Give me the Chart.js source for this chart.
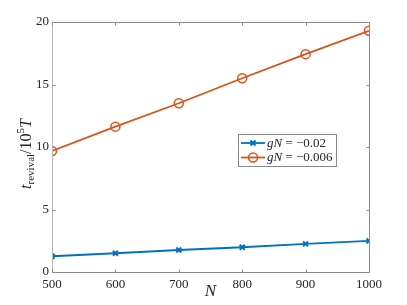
<!DOCTYPE html>
<html><head><meta charset="utf-8">
<script src="https://cdn.jsdelivr.net/npm/chart.js@4"></script>
<style>html,body{margin:0;padding:0;background:#fff}#w{width:407px;height:305px}</style>
</head><body><div id="w"><canvas id="c"></canvas></div>
<script>
const categoriesN = [500, 600, 700, 800, 900, 1000];
const seriesA = [1.26, 1.50, 1.76, 1.98, 2.25, 2.49];   // gN = -0.02
const seriesB = [9.68, 11.63, 13.50, 15.50, 17.43, 19.30]; // gN = -0.006
const seriesLabels = ['−0.02', '−0.006'];
const xTicks = [500, 600, 700, 800, 900, 1000];
const yTicks = [0, 5, 10, 15, 20];

const SERIF = '"Liberation Serif","DejaVu Serif",serif';
const BLUE = '#0072BD', ORANGE = '#D95319';

const boxPlugin = {
  id: 'box',
  afterDraw(chart) {
    const ctx = chart.ctx, a = chart.chartArea;
    const xs = chart.scales.x, ys = chart.scales.y;
    ctx.save();
    ctx.lineWidth = 1;
    ctx.strokeStyle = '#8a8a8a';
    const L = Math.round(a.left) + 0.5, R = Math.round(a.right) + 0.5;
    const T = Math.round(a.top) + 0.5, B = Math.round(a.bottom) + 0.5;
    ctx.beginPath();
    ctx.moveTo(L, T); ctx.lineTo(R, T); ctx.lineTo(R, B); ctx.lineTo(L, B);
    ctx.stroke();
    ctx.strokeStyle = '#b8b8b8';
    ctx.beginPath(); ctx.moveTo(L, T); ctx.lineTo(L, B); ctx.stroke();
    ctx.strokeStyle = '#8a8a8a';
    const tl = 3;
    ctx.beginPath();
    xTicks.forEach(v => {
      const px = Math.round(xs.getPixelForValue(v)) + 0.5;
      ctx.moveTo(px, B); ctx.lineTo(px, B - tl);
      ctx.moveTo(px, T); ctx.lineTo(px, T + tl);
    });
    yTicks.forEach(v => {
      const py = Math.round(ys.getPixelForValue(v)) + 0.5;
      ctx.moveTo(L, py); ctx.lineTo(L + tl, py);
      ctx.moveTo(R, py); ctx.lineTo(R - tl, py);
    });
    ctx.stroke();

    // y title with subscript / superscript
    const parts = [
      {t: 't', f: 'italic 16px ' + SERIF, dy: 0},
      {t: 'revival', f: '11px ' + SERIF, dy: 3},
      {t: '/10', f: '16px ' + SERIF, dy: 0},
      {t: '5', f: '11px ' + SERIF, dy: -7},
      {t: 'T', f: 'italic 16px ' + SERIF, dy: 0}
    ];
    let total = 0;
    parts.forEach(p => { ctx.font = p.f; p.w = ctx.measureText(p.t).width; total += p.w; });
    ctx.translate(31, 154);
    ctx.rotate(-Math.PI / 2);
    ctx.fillStyle = '#262626';
    ctx.textBaseline = 'alphabetic';
    let x0 = -total / 2;
    parts.forEach(p => { ctx.font = p.f; ctx.fillText(p.t, x0, p.dy); x0 += p.w; });
    ctx.restore();

    // x title
    ctx.save();
    ctx.font = 'italic 17px ' + SERIF;
    ctx.fillStyle = '#262626';
    ctx.textAlign = 'center';
    ctx.textBaseline = 'alphabetic';
    ctx.fillText('N', (a.left + a.right) / 2, 296);
    ctx.restore();

    // legend
    ctx.save();
    const bx = 238.5, by = 134.5, bw = 98, bh = 32;
    ctx.fillStyle = '#fff';
    ctx.fillRect(bx, by, bw, bh);
    ctx.strokeStyle = '#8a8a8a';
    ctx.lineWidth = 1;
    ctx.strokeRect(bx, by, bw, bh);
    chart.data.datasets.forEach((ds, i) => {
      const cy = 143 + i * 14.5;
      ctx.strokeStyle = ds.borderColor;
      ctx.lineWidth = 1.8;
      ctx.beginPath(); ctx.moveTo(241, cy); ctx.lineTo(265, cy); ctx.stroke();
      ctx.fillStyle = ds.pointBackgroundColor;
      ctx.strokeStyle = ds.pointBorderColor;
      ctx.lineWidth = ds.pointBorderWidth;
      Chart.helpers.drawPoint(ctx, {pointStyle: ds.pointStyle, radius: ds.pointRadius, borderWidth: ds.pointBorderWidth, rotation: 0}, 253, cy);
      ctx.fillStyle = '#262626';
      ctx.textBaseline = 'middle';
      let tx = 267;
      const segs = [
        {t: 'gN', f: 'italic 13px ' + SERIF},
        {t: ' = ' + seriesLabels[i], f: '13px ' + SERIF}
      ];
      segs.forEach(s => { ctx.font = s.f; ctx.fillText(s.t, tx, cy + 0.5); tx += ctx.measureText(s.t).width; });
    });
    ctx.restore();
  }
};

new Chart(document.getElementById('c'), {
  type: 'line',
  data: {
    datasets: [
      {
        label: 'gN = ' + seriesLabels[0],
        data: categoriesN.map((n, i) => ({x: n, y: seriesA[i]})),
        borderColor: BLUE, backgroundColor: BLUE, borderWidth: 1.8,
        pointStyle: 'crossRot', pointRadius: 3.5, pointBorderWidth: 2,
        pointBorderColor: BLUE, pointBackgroundColor: BLUE, pointHoverRadius: 3.5
      },
      {
        label: 'gN = ' + seriesLabels[1],
        data: categoriesN.map((n, i) => ({x: n, y: seriesB[i]})),
        borderColor: ORANGE, backgroundColor: 'rgba(0,0,0,0)', borderWidth: 1.8,
        pointStyle: 'circle', pointRadius: 4.5, pointBorderWidth: 1.5,
        pointBorderColor: ORANGE, pointBackgroundColor: 'rgba(0,0,0,0)', pointHoverRadius: 4.5
      }
    ]
  },
  options: {
    responsive: true, maintainAspectRatio: false, animation: false,
    events: [],
    layout: {padding: {left: 0, right: 38, top: 22, bottom: 0}},
    plugins: {legend: {display: false}, tooltip: {enabled: false}},
    elements: {line: {tension: 0}},
    scales: {
      x: {
        type: 'linear', min: 500, max: 1000,
        afterBuildTicks: s => { s.ticks = xTicks.map(v => ({value: v})); },
        afterFit: s => { s.height = 33; },
        grid: {display: false, drawTicks: false},
        border: {display: false},
        ticks: {padding: 5, color: '#262626', font: {family: SERIF, size: 13}, callback: v => String(v)}
      },
      y: {
        min: 0, max: 20,
        afterBuildTicks: s => { s.ticks = yTicks.map(v => ({value: v})); },
        afterFit: s => { s.width = 52; },
        grid: {display: false, drawTicks: false},
        border: {display: false},
        ticks: {padding: 3, color: '#262626', font: {family: SERIF, size: 13}, callback: v => String(v)}
      }
    }
  },
  plugins: [boxPlugin]
});
</script></body></html>
